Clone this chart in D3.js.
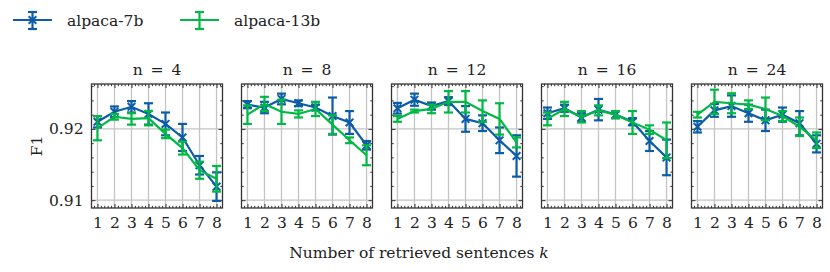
<!DOCTYPE html>
<html>
<head>
<meta charset="utf-8">
<script src="https://cdn.jsdelivr.net/npm/d3@7"></script>
<style>
  body { margin: 0; background: #fff; }
  text { font-family: "DejaVu Serif", serif; fill: #222; }
</style>
</head>
<body>
<div id="chart"></div>
<script>
const ks = [1, 2, 3, 4, 5, 6, 7, 8];
const nValues = [4, 8, 12, 16, 24];
const seriesNames = ['alpaca-7b', 'alpaca-13b'];
const yTicks = [0.91, 0.92];

// one row per n
const f1_7b = [
  [0.9210, 0.9224, 0.9231, 0.9221, 0.9207, 0.9188, 0.9149, 0.9119],
  [0.9234, 0.9230, 0.9242, 0.9236, 0.9230, 0.9218, 0.9209, 0.9177],
  [0.9229, 0.9241, 0.9232, 0.9239, 0.9214, 0.9208, 0.9184, 0.9162],
  [0.9222, 0.9229, 0.9216, 0.9227, 0.9220, 0.9210, 0.9183, 0.9160],
  [0.9203, 0.9226, 0.9232, 0.9222, 0.9212, 0.9220, 0.9208, 0.9179]
];
const err_7b = [
  [0.0008, 0.00075, 0.0008, 0.0015, 0.0016, 0.0019, 0.0013, 0.0020],
  [0.0005, 0.0008, 0.00075, 0.0004, 0.0004, 0.0026, 0.0016, 0.0006],
  [0.00075, 0.00085, 0.0005, 0.00055, 0.0018, 0.0011, 0.0018, 0.0029],
  [0.0008, 0.0005, 0.0006, 0.0015, 0.0005, 0.0005, 0.0014, 0.0025],
  [0.0008, 0.0009, 0.0015, 0.0012, 0.0015, 0.0010, 0.0017, 0.0012]
];
const f1_13b = [
  [0.9201, 0.9217, 0.9214, 0.9215, 0.9193, 0.9173, 0.9142, 0.9130],
  [0.9220, 0.9235, 0.9224, 0.9221, 0.9228, 0.9206, 0.9184, 0.9163],
  [0.9214, 0.9225, 0.9228, 0.9238, 0.9238, 0.9225, 0.9214, 0.9181],
  [0.9214, 0.9228, 0.9217, 0.9226, 0.9220, 0.9209, 0.9199, 0.9184],
  [0.9220, 0.9238, 0.9236, 0.9234, 0.9228, 0.9218, 0.9203, 0.9184]
];
const err_13b = [
  [0.0017, 0.0004, 0.0008, 0.0010, 0.0006, 0.0009, 0.0012, 0.0018],
  [0.0013, 0.0010, 0.0017, 0.0005, 0.0010, 0.0013, 0.0004, 0.0014],
  [0.0004, 0.0002, 0.0006, 0.0015, 0.0015, 0.0015, 0.0022, 0.0007],
  [0.0009, 0.0010, 0.0008, 0.0007, 0.0005, 0.0016, 0.0006, 0.0025],
  [0.0004, 0.0017, 0.0014, 0.0006, 0.0016, 0.0007, 0.0013, 0.0011]
];

const colors = ['#0C5DA5', '#00B945'];
const width = 830, height = 272;
const panelW = 131, panelH = 124, panelTop = 84, panelLeft = 91.5, panelStep = 150;
const fontSize = 15.5;
const fontFamily = '"DejaVu Serif", serif';

let svg = d3.select('#chart')
  .append('svg')
  .attr('width', width)
  .attr('height', height);

let x = d3.scaleLinear().domain([0.65, 8.35]).range([0, panelW]);
let y = d3.scaleLinear().domain([0.9089, 0.9263]).range([panelH, 0]);

let xMinor = d3.range(0.8, 8.35, 0.2).filter(v => Math.abs(v - Math.round(v)) > 1e-6);
let yMinor = d3.range(0.910, 0.9263, 0.002).filter(v => Math.abs(v * 100 - Math.round(v * 100)) > 1e-6);

nValues.forEach((n, pi) => {
  let g = svg.append('g')
    .attr('transform', `translate(${panelLeft + pi * panelStep}, ${panelTop})`);

  // grid
  g.append('g').selectAll('line.vg')
    .data(ks).enter().append('line')
    .attr('x1', d => x(d)).attr('x2', d => x(d))
    .attr('y1', 0).attr('y2', panelH)
    .style('stroke', '#c4c4c4').style('stroke-width', 1.3);
  g.append('g').selectAll('line.hg')
    .data(yTicks).enter().append('line')
    .attr('x1', 0).attr('x2', panelW)
    .attr('y1', d => y(d)).attr('y2', d => y(d))
    .style('stroke', '#c4c4c4').style('stroke-width', 1.3);

  // axes with inward ticks on all sides
  g.append('g').attr('transform', `translate(0, ${panelH})`)
    .call(d3.axisBottom(x).tickValues(ks).tickSize(-4).tickPadding(9).tickFormat(d3.format('d')));
  g.append('g')
    .call(d3.axisTop(x).tickValues(ks).tickSize(-4).tickFormat(''));
  let yAxisL = g.append('g')
    .call(d3.axisLeft(y).tickValues(yTicks).tickSize(-4).tickPadding(8).tickFormat(d3.format('.2f')));
  g.append('g').attr('transform', `translate(${panelW}, 0)`)
    .call(d3.axisRight(y).tickValues(yTicks).tickSize(-4).tickFormat(''));
  if (pi > 0) yAxisL.selectAll('text').remove();

  g.append('g').attr('transform', `translate(0, ${panelH})`)
    .call(d3.axisBottom(x).tickValues(xMinor).tickSize(-2.2).tickFormat(''));
  g.append('g')
    .call(d3.axisTop(x).tickValues(xMinor).tickSize(-2.2).tickFormat(''));
  g.append('g')
    .call(d3.axisLeft(y).tickValues(yMinor).tickSize(-2.2).tickFormat(''));
  g.append('g').attr('transform', `translate(${panelW}, 0)`)
    .call(d3.axisRight(y).tickValues(yMinor).tickSize(-2.2).tickFormat(''));

  g.selectAll('.domain').remove();
  g.selectAll('g').attr('font-family', null).attr('font-size', null);
  g.selectAll('.tick line').style('stroke', '#333').style('stroke-width', 1);
  g.selectAll('.tick text')
    .style('font-family', fontFamily)
    .style('font-size', fontSize + 'px')
    .style('fill', '#222');

  g.append('rect')
    .attr('width', panelW).attr('height', panelH)
    .style('fill', 'none').style('stroke', '#333').style('stroke-width', 1.3);

  // series
  let series = [
    { means: f1_7b[pi], errs: err_7b[pi], color: colors[0], marker: true },
    { means: f1_13b[pi], errs: err_13b[pi], color: colors[1], marker: false }
  ];
  let line = d3.line().x(d => x(d.k)).y(d => y(d.v));
  series.forEach(s => {
    let pts = ks.map((k, i) => ({ k: k, v: s.means[i], e: s.errs[i] }));
    let sg = g.append('g');
    sg.append('path').datum(pts)
      .attr('d', line)
      .style('fill', 'none').style('stroke', s.color).style('stroke-width', 2.2);
    let eb = sg.selectAll('.eb').data(pts).enter().append('g');
    eb.append('line')
      .attr('x1', d => x(d.k)).attr('x2', d => x(d.k))
      .attr('y1', d => y(d.v - d.e)).attr('y2', d => y(d.v + d.e))
      .style('stroke', s.color).style('stroke-width', 2.2);
    [-1, 1].forEach(sign => {
      eb.append('line')
        .attr('x1', d => x(d.k) - 4.5).attr('x2', d => x(d.k) + 4.5)
        .attr('y1', d => y(d.v + sign * d.e)).attr('y2', d => y(d.v + sign * d.e))
        .style('stroke', s.color).style('stroke-width', 2.2);
    });
    if (s.marker) {
      eb.append('path')
        .attr('transform', d => `translate(${x(d.k)}, ${y(d.v)})`)
        .attr('d', 'M-3.8,-3.8L3.8,3.8M-3.8,3.8L3.8,-3.8')
        .style('stroke', s.color).style('stroke-width', 2).style('fill', 'none');
    }
  });

  // title
  svg.append('text')
    .attr('x', panelLeft + pi * panelStep + panelW / 2)
    .attr('y', 75)
    .style('text-anchor', 'middle')
    .style('font-size', fontSize + 'px')
    .style('word-spacing', '3px')
    .text(`n = ${n}`);
});

// axis labels
svg.append('text')
  .attr('transform', `translate(42, ${panelTop + panelH / 2}) rotate(-90)`)
  .style('text-anchor', 'middle')
  .style('font-size', fontSize + 'px')
  .text('F1');

let xl = svg.append('text')
  .attr('x', 419).attr('y', 258)
  .style('text-anchor', 'middle')
  .style('font-size', fontSize + 'px');
xl.append('tspan').text('Number of retrieved sentences ');
xl.append('tspan').style('font-style', 'italic').text('k');

// legend
const legendX = [13, 180];
seriesNames.forEach((name, i) => {
  let lg = svg.append('g').attr('transform', `translate(${legendX[i]}, 20)`);
  lg.append('line').attr('x1', 0).attr('x2', 39).attr('y1', 0).attr('y2', 0)
    .style('stroke', colors[i]).style('stroke-width', 2.2);
  lg.append('line').attr('x1', 19.5).attr('x2', 19.5).attr('y1', -8).attr('y2', 9)
    .style('stroke', colors[i]).style('stroke-width', 2.2);
  lg.append('line').attr('x1', 15).attr('x2', 24).attr('y1', -8).attr('y2', -8)
    .style('stroke', colors[i]).style('stroke-width', 2.2);
  lg.append('line').attr('x1', 15).attr('x2', 24).attr('y1', 9).attr('y2', 9)
    .style('stroke', colors[i]).style('stroke-width', 2.2);
  if (i === 0) {
    lg.append('path').attr('transform', 'translate(19.5, 0)')
      .attr('d', 'M-3.8,-3.8L3.8,3.8M-3.8,3.8L3.8,-3.8')
      .style('stroke', colors[i]).style('stroke-width', 2);
  }
  lg.append('text').attr('x', 54).attr('y', 6)
    .style('font-size', fontSize + 'px')
    .text(name);
});
</script>
</body>
</html>
